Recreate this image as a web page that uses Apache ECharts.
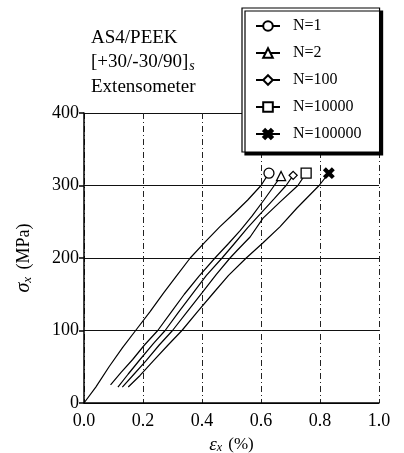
<!DOCTYPE html>
<html>
<head>
<meta charset="utf-8">
<script src="https://cdn.jsdelivr.net/npm/echarts@6/dist/echarts.min.js"></script>
<style>
  html, body { margin: 0; padding: 0; background: #fff; }
  #main { width: 404px; height: 453px; }
</style>
</head>
<body>
<div id="main"></div>
<script>
// strain (%) / stress (MPa) pairs
var seriesNames = ['N=1', 'N=2', 'N=100', 'N=10000', 'N=100000'];

var n1 = [[0, 0], [0.04, 22], [0.085, 50], [0.13, 76], [0.175, 100], [0.224, 126], [0.27, 152],
  [0.315, 176], [0.36, 200], [0.41, 222], [0.46, 243], [0.51, 262], [0.555, 280],
  [0.6, 300], [0.627, 317]];
var n2 = [[0.09, 25], [0.125, 42], [0.165, 60], [0.205, 80], [0.25, 100], [0.295, 125], [0.34, 150],
  [0.39, 175], [0.444, 200], [0.49, 220], [0.53, 238], [0.57, 258], [0.61, 280], [0.645, 300],
  [0.668, 313]];
var n100 = [[0.115, 22], [0.15, 40], [0.19, 60], [0.235, 82], [0.275, 100], [0.32, 125], [0.37, 152],
  [0.415, 176], [0.468, 200], [0.51, 220], [0.555, 242], [0.6, 262], [0.645, 282], [0.685, 300],
  [0.709, 314]];
var n10000 = [[0.13, 22], [0.17, 40], [0.21, 58], [0.255, 80], [0.3, 100], [0.35, 126], [0.4, 152],
  [0.448, 177], [0.495, 200], [0.518, 210], [0.563, 229], [0.607, 255], [0.664, 277], [0.725, 300],
  [0.753, 317]];
var n100000 = [[0.15, 22], [0.19, 38], [0.235, 58], [0.285, 80], [0.332, 100], [0.385, 126], [0.435, 150],
  [0.49, 176], [0.55, 200], [0.607, 221], [0.664, 243], [0.722, 269], [0.797, 300], [0.83, 317]];

var xTicks = ['0.0', '0.2', '0.4', '0.6', '0.8', '1.0'];
var yTicks = ['0', '100', '200', '300', '400'];

var serif = '"Liberation Serif", "DejaVu Serif", serif';
var crossPath = 'path://M0,2 L2,0 L5,3 L8,0 L10,2 L7,5 L10,8 L8,10 L5,7 L2,10 L0,8 L3,5 Z';

var allData = [n1, n2, n100, n10000, n100000];
var symbols = ['circle', 'triangle', 'diamond', 'rect', crossPath];
var sizes = [10, 9, 8, 10, 10];

// only the last point of each curve carries the marker
function withEndMarker(pts) {
  return pts.map(function (p, i) {
    return i === pts.length - 1 ? p : { value: p, symbol: 'none' };
  });
}

var series = allData.map(function (pts, k) {
  return {
    name: seriesNames[k],
    type: 'line',
    data: withEndMarker(pts),
    symbol: symbols[k],
    symbolSize: sizes[k],
    showAllSymbol: true,
    lineStyle: { color: '#000', width: 1.2 },
    itemStyle: {
      color: k === 4 ? '#000' : '#fff',
      borderColor: '#000',
      borderWidth: 1.3
    },
    emphasis: { disabled: true },
    z: 3
  };
});

var myChart = echarts.init(document.getElementById('main'), null, { renderer: 'canvas' });

var option = {
  animation: false,
  backgroundColor: '#fff',
  grid: { left: 84, right: 25, top: 113, bottom: 50, outerBoundsMode: 'none' },
  xAxis: {
    type: 'value',
    min: 0, max: 1, interval: 0.2,
    name: '{e|ε}{sub|x} (%)',
    nameLocation: 'middle',
    nameGap: 32,
    nameTextStyle: {
      fontFamily: serif, fontSize: 17, color: '#000',
      rich: {
        e: { fontFamily: serif, fontSize: 19, fontStyle: 'italic', color: '#000' },
        sub: { fontFamily: serif, fontSize: 12, fontStyle: 'italic', color: '#000', padding: [7, 2, 0, 0] }
      }
    },
    axisLine: { lineStyle: { color: '#000', width: 1.5 } },
    axisTick: { show: false },
    axisLabel: {
      fontFamily: serif, fontSize: 18, color: '#000', margin: 9,
      formatter: function (v) { return xTicks[Math.round(v / 0.2)]; }
    },
    splitLine: { show: true, lineStyle: { color: '#222', width: 1, type: [6, 3, 1, 3] } }
  },
  yAxis: {
    type: 'value',
    min: 0, max: 400, interval: 100,
    name: '{s|σ}{sub|x} (MPa)',
    nameLocation: 'middle',
    nameGap: 50,
    nameTextStyle: {
      fontFamily: serif, fontSize: 18, color: '#000',
      rich: {
        s: { fontFamily: serif, fontSize: 20, fontStyle: 'italic', color: '#000' },
        sub: { fontFamily: serif, fontSize: 13, fontStyle: 'italic', color: '#000', padding: [7, 3, 0, 0] }
      }
    },
    axisLine: { show: true, lineStyle: { color: '#000', width: 1.5 } },
    axisTick: { show: true, length: 5, lineStyle: { color: '#000', width: 1.5 } },
    axisLabel: {
      fontFamily: serif, fontSize: 18, color: '#000', margin: 5,
      formatter: function (v) { return yTicks[Math.round(v / 100)]; }
    },
    splitLine: { show: true, lineStyle: { color: '#111', width: 1.2 } }
  },
  legend: {
    orient: 'vertical',
    left: 242,
    top: 8,
    data: seriesNames,
    itemWidth: 24,
    itemHeight: 12,
    itemGap: 11,
    padding: [10, 18, 10, 13],
    backgroundColor: '#fff',
    borderColor: '#000',
    borderWidth: 1.2,
    shadowColor: '#000',
    shadowBlur: 0,
    shadowOffsetX: 3,
    shadowOffsetY: 3,
    selectedMode: false,
    textStyle: { fontFamily: serif, fontSize: 16, color: '#000', padding: [0, 0, 0, 8] }
  },
  graphic: [
    {
      type: 'text', left: 91, top: 29,
      style: { text: 'AS4/PEEK', font: '19px ' + serif, fill: '#000' }
    },
    {
      type: 'text', left: 91, top: 53,
      style: {
        text: '[+30/-30/90]{sub|s}',
        font: '19px ' + serif, fill: '#000',
        rich: {
          sub: { fontFamily: serif, fontSize: 14, fontStyle: 'italic', fill: '#000', padding: [8, 0, 0, 1] }
        }
      }
    },
    {
      type: 'text', left: 91, top: 78,
      style: { text: 'Extensometer', font: '19px ' + serif, fill: '#000' }
    }
  ],
  series: series
};

option && myChart.setOption(option);
</script>
</body>
</html>
